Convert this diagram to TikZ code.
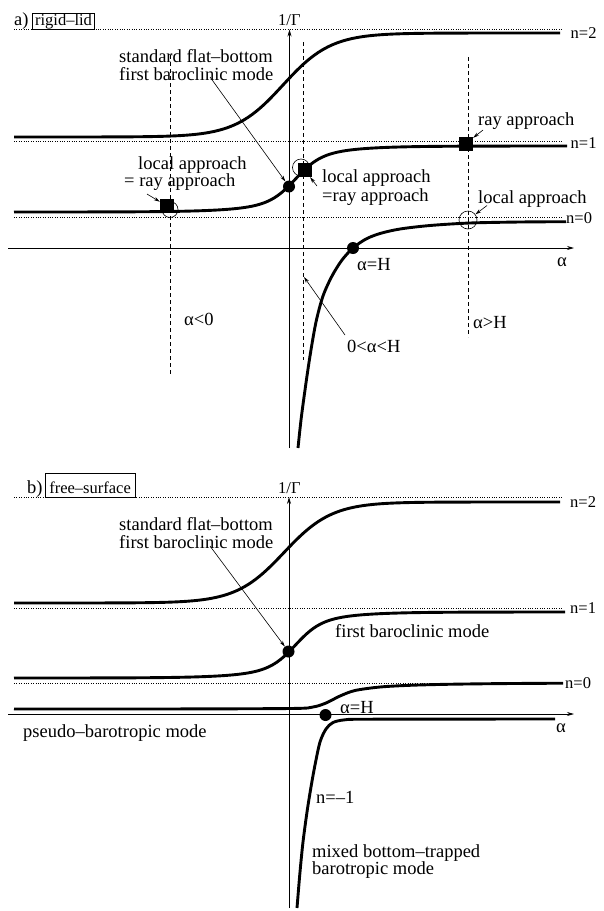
\documentclass[tikz,border=0pt]{standalone}
\usepackage{fontspec}
\setmainfont{Liberation Serif}
\usetikzlibrary{arrows.meta}
\newcommand{\lbfont}{\fontsize{18.5}{20}\selectfont}
\newcommand{\smfont}{\fontsize{16.5}{18}\selectfont}
\tikzset{
  declare function={th(\u)=tanh(max(-5,min(5,\u)));},
  curve/.style={line width=2.9pt},
  guide/.style={line width=0.6pt, dash pattern=on 0.8pt off 1.6pt},
  dashguide/.style={line width=0.7pt, dash pattern=on 4pt off 3pt},
  axis/.style={line width=0.7pt, -{Stealth[length=7pt,width=4pt]}},
  ann/.style={line width=0.6pt, -{Stealth[length=6pt,width=3.5pt]}},
  lbl/.style={font=\lbfont, inner sep=0pt, anchor=base west},
  tag/.style={font=\smfont, inner sep=0pt, anchor=base west},
  dotm/.style={circle, fill, inner sep=0pt, minimum size=12pt},
  sqm/.style={rectangle, fill, inner sep=0pt, minimum size=14pt},
  ringm/.style={circle, draw, line width=0.6pt, inner sep=0pt, minimum size=17pt},
  boxed/.style={draw, line width=0.6pt, font=\smfont, inner ysep=0pt, anchor=base west},
}
\begin{document}
\begin{tikzpicture}[x=1pt,y=-1pt]
\useasboundingbox (0,0) rectangle (604,911);

% ================= panel a =================
\foreach \yy in {29.5,141.7,217} \draw[guide] (14,\yy) -- (562,\yy);
\draw[dashguide] (170,55) -- (170,375);
\draw[dashguide] (303,42) -- (303,360);
\draw[dashguide] (468,57) -- (468,337);
\draw[axis] (289.5,448) -- (289.5,29.5);
\draw[axis] (8,248) -- (574,248);

\draw[curve] plot[domain=14:560,samples=150] (\x,{85-52*th((\x-283)/48)});
\draw[curve] plot[domain=14:567,samples=150] (\x,{179-33*(0.7*th((\x-295.5)/25)+0.3*th((\x-295.5)/70))});
\draw[curve] plot[smooth] coordinates {(298,448) (301,420) (305,390) (310,356) (316,322) (323,296) (332,276) (342,260) (353,248) (366,239) (380,233.5) (400,229) (430,225.5) (470,223) (520,222) (566,221.7)};

\node[ringm, minimum size=16pt] (ringL) at (170,209.5) {};
\node[ringm] (ringM) at (301,167.5) {};
\node[ringm, minimum size=18pt] (ringR) at (468,220) {};
\node[sqm] (sqL) at (167,206) {};
\node[sqm] (sqM) at (304.5,170) {};
\node[sqm] (sqR) at (466,143.5) {};
\node[dotm] (dotA1) at (289,186.5) {};
\node[dotm] (dotA0) at (353,248) {};

\node[lbl] (la) at (14,25) {a)};
\node[boxed, inner xsep=2.5pt, text height=12pt, text depth=4.3pt] (boxa) at (32.3,25) {rigid–lid};
\node[tag] (gA) at (278,25) {1/Γ};
\node[tag] (n2a) at (570.5,38) {n=2};
\node[tag] (n1a) at (570.5,148) {n=1};
\node[tag] (n0a) at (566,223) {n=0};

\node[lbl] (sfA1) at (119,62) {standard flat–bottom};
\node[lbl] (sfA2) at (119,80) {first baroclinic mode};
\coordinate (sfAs) at (210,77);
\draw[ann] (sfAs) -- (dotA1);

\node[lbl] (laL1) at (138,169) {local approach};
\node[lbl] (laL2) at (124,186) {= ray approach};
\coordinate (laLs) at (147,194);
\draw[ann] (laLs) -- (sqL);

\node[lbl] (laM1) at (322,182) {local approach};
\node[lbl] (laM2) at (322,201.5) {=ray approach};
\coordinate (laMs) at (317,186);
\draw[ann] (laMs) -- (sqM);

\node[lbl] (raR) at (478,125) {ray approach};
\coordinate (raRs) at (483,130);
\draw[ann] (raRs) -- (sqR);

\node[lbl] (laR) at (478,203) {local approach};
\coordinate (laRs) at (487,205.5);
\draw[ann] (laRs) -- (ringR);

\node[lbl] (aHa) at (357,270) {α=H};
\node[lbl] (axa) at (557,266) {α};
\node[lbl] (rng) at (347,352) {0<α<H};
\coordinate (rngs) at (345,335);
\coordinate (rnge) at (304,277);
\draw[ann] (rngs) -- (rnge);
\node[lbl] (neg) at (184,325) {α<0};
\node[lbl] (big) at (473,328) {α>H};

% ================= panel b =================
\foreach \yy in {497,608.3,683.3} \draw[guide] (14,\yy) -- (562,\yy);
\draw[axis] (289,908) -- (289,497);
\draw[axis] (8,714) -- (574,714);

\draw[curve] plot[domain=14:560,samples=150] (\x,{552.5-50.5*th((\x-284)/48)});
\draw[curve] plot[domain=14:565,samples=150] (\x,{645-33*(0.7*th((\x-295.5)/25)+0.3*th((\x-295.5)/70))});
\draw[curve] plot[smooth] coordinates {(14,709) (150,709) (290,708.5) (313,707) (326,703) (340,696) (355,690.5) (380,687) (410,685.3) (447,684.3) (500,683.6) (563,683.2)};
\draw[curve] plot[smooth] coordinates {(297,908) (300,872) (303,842) (307,812) (311,787) (315,765) (320,742) (326,729) (333,722.5) (345,719.8) (370,719.2) (555,719)};

\node[dotm] (dotB1) at (288.5,651.5) {};
\node[dotm] (dotB0) at (325.5,715) {};

\node[lbl] (lb) at (27,493) {b)};
\node[boxed, inner xsep=4pt, text height=20pt, text depth=4pt] (boxb) at (45,493) {free–surface};
\node[tag] (gB) at (278,493) {1/Γ};
\node[tag] (n2b) at (570,507) {n=2};
\node[tag] (n1b) at (570,613) {n=1};
\node[tag] (n0b) at (565,688) {n=0};

\node[lbl] (sfB1) at (119,530) {standard flat–bottom};
\node[lbl] (sfB2) at (119,548) {first baroclinic mode};
\coordinate (sfBs) at (210,546);
\draw[ann] (sfBs) -- (dotB1);

\node[lbl] (fbm) at (335,637) {first baroclinic mode};
\node[lbl] (pbm) at (23,737) {pseudo–barotropic mode};
\node[lbl] (aHb) at (340,713) {α=H};
\node[lbl] (axb) at (556,732) {α};
\node[lbl] (nm1) at (316,803) {n=–1};
\node[lbl] (mx1) at (312,857) {mixed bottom–trapped};
\node[lbl] (mx2) at (312,874) {barotropic mode};
\end{tikzpicture}
\end{document}
